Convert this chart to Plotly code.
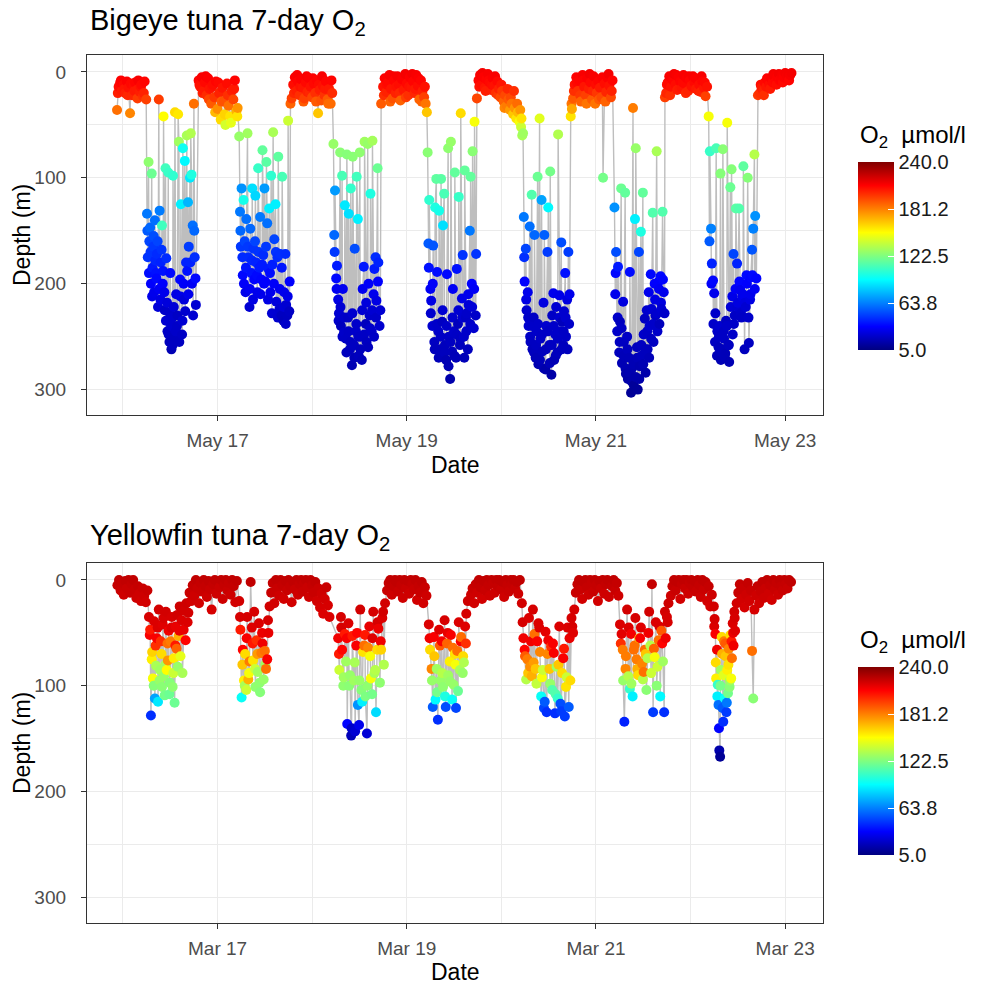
import pandas as pd
import plotly.graph_objects as go

# ---------------------------------------------------------------------------
# Archival tag records: hours since the first midnight, depth (m), O2 (umol/l)
# ---------------------------------------------------------------------------
bigeye_start = "2019-05-16"
bigeye_hours = [
    # night
    -1.5, -1.1, -0.7, -0.3, 0.2, 0.6, 1.0, 1.4, 1.8, 2.3, 2.7, 3.1, 3.5, 3.9, 4.3, 4.7, 5.1, 5.5, 5.9,
    # day 1
    6.1, 6.3, 6.5, 6.7, 6.9, 7.1, 7.3, 7.5, 7.7, 7.9, 8.1, 8.4, 8.6, 8.9, 9.1, 9.3, 9.6, 9.9, 10.1, 10.3,
    10.6, 10.8, 11.0, 11.3, 11.5, 11.8, 12.0, 12.3, 12.5, 12.7, 13.0, 13.2, 13.5, 13.7, 14.0, 14.2, 14.5,
    14.7, 15.0, 15.2, 15.5, 15.7, 16.0, 16.2, 16.5, 16.7, 17.0, 17.2, 17.5, 17.7, 18.0, 18.2, 18.5,
    # night
    19.2, 19.6, 20.0, 20.4, 20.8, 21.2, 21.6, 22.0, 22.4, 22.8, 23.2, 23.6, 24.0, 24.4, 24.8, 25.2, 25.6,
    26.0, 26.4, 26.8, 27.2, 27.6, 28.0, 28.4, 28.8, 29.1,
    # day 2
    29.5, 29.7, 29.9, 30.1, 30.4, 30.6, 30.9, 31.1, 31.3, 31.6, 31.8, 32.1, 32.3, 32.6, 32.8, 33.1, 33.3,
    33.6, 33.8, 34.1, 34.3, 34.6, 34.8, 35.1, 35.4, 35.6, 35.9, 36.1, 36.4, 36.6, 36.9, 37.1, 37.4, 37.6,
    37.9, 38.1, 38.4, 38.7, 38.9, 39.2, 39.4, 39.7, 39.9, 40.2, 40.4, 40.7, 40.9, 41.2, 41.4, 41.7, 41.9,
    42.2, 42.5, 42.8,
    # night
    43.2, 43.6, 44.0, 44.4, 44.8, 45.2, 45.6, 46.0, 46.4, 46.8, 47.2, 47.6, 48.0, 48.4, 48.8, 49.2, 49.5,
    49.9, 50.3, 50.7, 51.1, 51.5, 51.9, 52.3, 52.7, 53.1,
    # day 3
    53.4, 53.6, 53.8, 54.1, 54.3, 54.6, 54.8, 55.1, 55.3, 55.6, 55.8, 56.1, 56.3, 56.6, 56.8, 57.1, 57.3,
    57.6, 57.8, 58.1, 58.3, 58.6, 58.8, 59.1, 59.3, 59.6, 59.8, 60.1, 60.3, 60.6, 60.8, 61.1, 61.3, 61.6,
    61.8, 62.1, 62.3, 62.6, 62.8, 63.1, 63.3, 63.6, 63.8, 64.1, 64.3, 64.6, 64.8, 65.1, 65.5,
    # night
    66.0, 66.4, 66.8, 67.2, 67.6, 68.0, 68.4, 68.8, 69.2, 69.6, 70.0, 70.4, 70.8, 71.2, 71.6, 72.0, 72.4,
    72.8, 73.2, 73.6, 74.0, 74.4, 74.8, 75.2, 75.6, 76.0, 76.4, 76.8, 77.1,
    # day 4
    77.3, 77.5, 77.7, 78.0, 78.2, 78.5, 78.7, 79.0, 79.2, 79.5, 79.7, 80.0, 80.2, 80.5, 80.7, 81.0, 81.2,
    81.5, 81.7, 82.0, 82.2, 82.5, 82.7, 83.0, 83.2, 83.5, 83.7, 84.0, 84.2, 84.5, 84.7, 85.0, 85.2, 85.5,
    85.7, 86.0, 86.2, 86.5, 86.7, 87.0, 87.2, 87.5, 87.7, 88.0, 88.2, 88.5, 88.7, 89.0, 89.2, 89.5, 89.8,
    # night
    90.2, 90.6, 91.0, 91.4, 91.8, 92.2, 92.6, 93.0, 93.4, 93.8, 94.2, 94.6, 95.0, 95.4, 95.8, 96.2, 96.6,
    97.0, 97.4, 97.8, 98.2, 98.6, 99.0, 99.4, 99.8, 100.2, 100.6, 101.0, 101.3,
    # day 5
    101.5, 101.7, 101.9, 102.2, 102.4, 102.7, 102.9, 103.2, 103.4, 103.7, 103.9, 104.2, 104.4, 104.7,
    104.9, 105.2, 105.4, 105.7, 105.9, 106.2, 106.4, 106.7, 106.9, 107.2, 107.4, 107.7, 107.9, 108.2,
    108.4, 108.7, 108.9, 109.2, 109.4, 109.7, 109.9, 110.2, 110.4, 110.7, 110.9, 111.2, 111.4, 111.7,
    111.9, 112.2, 112.4, 112.7, 113.0, 113.3,
    # night
    113.6, 113.9, 114.2, 114.6, 115.0, 115.4, 115.8, 116.2, 116.6, 117.0, 117.4, 117.8, 118.2, 118.6,
    119.0, 119.4, 119.8, 120.2, 120.6, 121.0, 121.4, 121.8, 122.2, 122.6, 123.0, 123.4, 123.8, 124.2,
    # day 6
    124.7, 124.9, 125.1, 125.4, 125.6, 125.9, 126.1, 126.4, 126.6, 126.9, 127.1, 127.4, 127.6, 127.9,
    128.1, 128.4, 128.6, 128.9, 129.1, 129.4, 129.6, 129.9, 130.1, 130.4, 130.6, 130.9, 131.1, 131.4,
    131.6, 131.9, 132.1, 132.4, 132.6, 132.9, 133.1, 133.4, 133.6, 133.9, 134.1, 134.4, 134.6, 134.9,
    135.1, 135.4, 135.6, 135.9, 136.1, 136.4, 136.6, 136.9, 137.2, 137.5,
    # night
    137.8, 138.2, 138.6, 139.0, 139.4, 139.8, 140.2, 140.6, 141.0, 141.4, 141.8, 142.2, 142.6, 143.0,
    143.4, 143.8, 144.2, 144.6, 145.0, 145.4, 145.8, 146.2, 146.6, 147.0, 147.4, 147.8, 148.2,
    # day 7
    148.6, 148.9, 149.2, 149.4, 149.7, 150.0, 150.3, 150.5, 150.8, 151.1, 151.4, 151.6, 151.9, 152.2,
    152.5, 152.7, 153.0, 153.3, 153.6, 153.8, 154.1, 154.4, 154.7, 154.9, 155.2, 155.5, 155.8, 156.0,
    156.3, 156.6, 156.9, 157.1, 157.4, 157.7, 158.0, 158.2, 158.5, 158.8, 159.1, 159.3, 159.6, 159.9,
    160.2, 160.4, 160.7, 161.1,
    # night
    161.6, 162.0, 162.4, 162.8, 163.2, 163.6, 164.0, 164.4, 164.8, 165.2, 165.6, 166.0, 166.4, 166.8,
    167.2, 167.6, 168.0, 168.4, 168.8, 169.3,
]
bigeye_depth = [
    36, 14, 10, 18, 12, 20, 9, 15, 39, 22, 13, 10, 17, 8, 19, 12, 23, 9, 26,
    134, 175, 85, 160, 147, 200, 96, 185, 165, 208, 140, 190, 172, 222, 26, 131, 180, 145, 200, 42,
    225, 91, 176, 245, 95, 255, 190, 262, 232, 98, 250, 38, 210, 240, 40, 66, 196,
    125, 248, 72, 215, 84, 180, 60, 123, 165, 100, 58, 200, 145, 30, 175, 220,
    8, 14, 5, 18, 10, 22, 6, 16, 30, 12, 24, 9, 35, 20, 45, 15, 28,
    50, 11, 32, 42, 18, 26, 8, 37, 34,
    61, 132, 165, 110, 192, 121, 160, 208, 139, 58, 175, 222, 148, 190, 110, 167, 196,
    117, 180, 208, 91, 185, 137, 196, 74, 173, 110, 198, 85, 143, 186, 129, 208, 98,
    182, 57, 158, 125, 217, 175, 80, 224, 172, 230, 99, 235, 208, 172, 220, 230, 46,
    226, 30, 25,
    12, 5, 18, 9, 22, 7, 15, 25, 10, 19, 6, 14, 24, 11, 20, 8, 39,
    17, 27, 13, 22, 9, 26, 16, 30, 20,
    68, 154, 112, 195, 183, 215, 228, 76, 240, 98, 205, 246, 126, 252, 78, 232, 134,
    262, 110, 277, 80, 258, 167, 245, 99, 139, 268, 76, 250, 272, 205, 184, 66, 238,
    255, 68, 200, 230, 115, 245, 65, 210, 186, 175, 216, 91, 180, 240, 30,
    14, 6, 19, 10, 3, 16, 25, 8, 20, 4, 12, 27, 7, 17, 2, 11, 22,
    5, 15, 9, 20, 3, 13, 26, 8, 18, 24, 30, 38,
    76, 162, 121, 205, 216, 240, 164, 255, 128, 101, 189, 245, 131, 262, 101, 236, 145,
    115, 258, 272, 191, 72, 250, 290, 66, 264, 205, 245, 95, 270, 186, 238, 118, 258,
    39, 214, 173, 250, 93, 232, 228, 262, 220, 150, 99, 200, 75, 242, 47, 230, 25,
    8, 3, 12, 5, 15, 7, 2, 10, 17, 6, 13, 20, 9, 16, 24, 18, 28,
    22, 32, 26, 36, 30, 40, 34, 44, 38, 47, 52, 60,
    58, 137, 198, 167, 225, 208, 240, 146, 255, 116, 262, 232, 154, 270,
    245, 99, 276, 44, 252, 121, 264, 218, 154, 281, 240, 170, 128, 258,
    94, 286, 230, 209, 272, 248, 222, 265, 59, 211, 245, 161, 236, 258,
    226, 190, 250, 215, 170, 210,
    42, 35, 25, 12, 5, 18, 8, 28, 3, 14, 22, 6, 16, 10,
    26, 4, 30, 20, 9, 15, 24, 100, 11, 19, 6, 13, 24, 8,
    128, 210, 170, 245, 184, 265, 236, 110, 275, 217, 255, 114, 285, 250,
    290, 270, 189, 303, 280, 34, 296, 139, 72, 260, 300, 170, 278, 151,
    268, 114, 248, 233, 284, 225, 262, 208, 240, 191, 224, 133, 255, 200,
    230, 75, 245, 198, 238, 193, 224, 132, 208, 24,
    20, 10, 4, 14, 7, 2, 12, 17, 5, 9, 15, 3, 11, 6,
    18, 8, 13, 4, 10, 16, 7, 12, 19, 9, 15, 23, 14,
    42, 75, 148, 181, 197, 209, 228, 72, 245, 260, 240, 96, 265, 73,
    252, 270, 235, 48, 258, 274, 109, 92, 248, 172, 230, 129, 181, 218,
    129, 206, 232, 212, 89, 262, 222, 192, 100, 256, 215, 194, 168, 148,
    78, 136, 195, 22,
    20, 15, 18, 10, 14, 8, 12, 6, 10, 4, 9, 5, 2, 7,
    3, 5, 1, 4, 2, 3,
]
bigeye_o2 = [
    185, 208, 210, 205, 209, 204, 211, 207, 180, 202, 208, 210, 205, 212, 204, 209, 200, 210, 196,
    62, 46, 126, 50, 58, 34, 118, 40, 47, 30, 60, 38, 44, 25, 197, 63, 42, 108, 34, 152,
    22, 108, 44, 21, 106, 19, 36, 17, 23, 104, 20, 160, 28, 22, 157, 130, 35,
    90, 21, 96, 26, 92, 42, 132, 76, 48, 88, 134, 32, 60, 185, 45, 24,
    210, 207, 212, 205, 209, 201, 211, 206, 190, 208, 198, 210, 178, 203, 160, 206, 192,
    142, 208, 185, 158, 204, 195, 210, 170, 176,
    128, 62, 47, 68, 36, 98, 50, 30, 60, 130, 44, 24, 58, 38, 86, 46, 35,
    84, 42, 30, 106, 40, 62, 35, 116, 44, 70, 34, 114, 60, 40, 90, 30, 104,
    41, 132, 50, 90, 26, 44, 115, 23, 45, 20, 110, 19, 30, 44, 24, 20, 140,
    21, 188, 196,
    208, 211, 204, 210, 200, 211, 206, 196, 209, 203, 211, 207, 195, 209, 200, 210, 165,
    204, 192, 207, 199, 210, 190, 205, 186, 201,
    128, 58, 70, 36, 40, 28, 24, 125, 19, 110, 31, 22, 88, 21, 124, 21, 86,
    19, 105, 17, 125, 20, 52, 22, 108, 90, 19, 126, 21, 18, 31, 40, 130, 19,
    20, 128, 33, 22, 100, 22, 131, 30, 40, 44, 28, 118, 42, 23, 190,
    207, 211, 203, 209, 212, 206, 192, 210, 203, 212, 208, 188, 211, 205, 213, 209, 200,
    211, 206, 210, 202, 212, 208, 188, 210, 204, 196, 184, 165,
    125, 55, 104, 32, 28, 23, 54, 20, 100, 115, 37, 22, 98, 19, 114, 20, 86,
    110, 19, 17, 36, 126, 21, 15, 128, 19, 32, 22, 116, 18, 38, 19, 106, 19,
    160, 29, 46, 22, 116, 21, 22, 19, 25, 62, 116, 34, 125, 23, 150, 22, 195,
    210, 212, 208, 211, 206, 210, 212, 209, 204, 211, 207, 200, 209, 203, 194, 198, 188,
    194, 182, 190, 175, 184, 165, 176, 158, 168, 150, 140, 132,
    130, 62, 34, 50, 23, 30, 23, 60, 20, 112, 19, 21, 58, 18,
    22, 118, 16, 145, 21, 72, 19, 27, 56, 15, 23, 48, 92, 19,
    120, 14, 21, 30, 17, 22, 24, 19, 134, 29, 22, 52, 19, 19,
    23, 38, 21, 27, 48, 30,
    158, 172, 190, 207, 211, 200, 210, 188, 212, 206, 196, 211, 204, 209,
    190, 212, 184, 198, 210, 205, 194, 120, 208, 202, 211, 207, 194, 210,
    68, 30, 52, 22, 40, 19, 19, 118, 17, 27, 20, 116, 15, 21,
    14, 18, 37, 10, 16, 182, 11, 90, 128, 19, 11, 50, 16, 100,
    19, 116, 22, 20, 15, 23, 19, 30, 23, 36, 24, 112, 20, 34,
    21, 132, 22, 34, 19, 36, 24, 112, 30, 196,
    202, 209, 212, 207, 211, 213, 208, 204, 211, 210, 206, 212, 209, 211,
    203, 210, 207, 212, 209, 205, 211, 208, 203, 210, 206, 196, 207,
    150, 106, 64, 42, 35, 30, 22, 110, 22, 19, 23, 124, 19, 125,
    21, 18, 20, 150, 19, 17, 118, 124, 22, 50, 21, 114, 42, 27,
    112, 31, 21, 29, 115, 19, 24, 36, 124, 20, 28, 35, 54, 64,
    135, 68, 35, 198,
    200, 205, 203, 209, 206, 210, 208, 211, 209, 212, 210, 211, 213, 211,
    212, 211, 213, 212, 213, 212,
]

# interleaved samples from the same tag (merged in time order below)
bigeye_extra_hours = [
    -1.3, -0.5, 0.4, 1.2, 2.0, 2.9, 3.7, 4.5, 5.3,
    6.2, 6.6, 7.0, 7.4, 7.8, 8.2, 8.5, 8.8, 9.2, 9.5, 9.8, 10.2, 10.5, 10.9, 11.2, 11.6, 11.9,
    12.2, 12.6, 12.9, 13.4, 13.8, 14.3, 14.6, 15.1, 15.4, 15.8, 16.3, 16.6, 17.1, 17.4, 17.8, 18.1, 18.4,
    19.4, 20.2, 21.0, 21.8, 22.6, 23.4, 24.2, 25.0, 25.8, 26.6, 27.4, 28.2, 29.0,
    29.8, 30.3, 30.7, 31.2, 31.7, 32.2, 32.7, 33.0, 33.5, 34.0, 34.4, 34.9, 35.3, 35.8, 36.3, 36.8,
    37.3, 37.8, 38.3, 38.8, 39.3, 39.8, 40.3, 40.8, 41.3, 41.8, 42.3,
    43.4, 44.2, 45.0, 45.8, 46.6, 47.4, 48.2, 49.0, 49.7, 50.5, 51.3, 52.1, 52.9,
    53.7, 54.2, 54.7, 55.2, 55.7, 56.2, 56.7, 57.2, 57.7, 58.2, 58.7, 59.2, 59.7, 60.2, 60.7, 61.2,
    61.7, 62.2, 62.7, 63.2, 63.7, 64.2, 64.7, 65.3,
    66.2, 67.0, 67.8, 68.6, 69.4, 70.2, 71.0, 71.8, 72.6, 73.4, 74.2, 75.0, 75.8, 76.6,
    77.6, 78.1, 78.6, 79.1, 79.6, 80.1, 80.6, 81.1, 81.6, 82.1, 82.6, 83.1, 83.6, 84.1, 84.6, 85.1,
    85.6, 86.1, 86.6, 87.1, 87.6, 88.1, 88.6, 89.1, 89.6,
    90.4, 91.2, 92.0, 92.8, 93.6, 94.4, 95.2, 96.0, 96.8, 97.6, 98.4, 99.2, 100.0, 100.8, 101.1,
    101.8, 102.3, 102.8, 103.3, 103.8, 104.3, 104.8, 105.3, 105.8, 106.3, 106.8, 107.3, 107.8, 108.3,
    108.8, 109.3, 109.8, 110.3, 110.8, 111.3, 111.8, 112.3, 112.8, 113.2,
    113.8, 114.4, 115.2, 116.0, 116.8, 117.6, 118.4, 119.2, 120.0, 120.8, 121.6, 122.4, 123.2, 124.0,
    125.0, 125.5, 126.0, 126.5, 127.0, 127.5, 128.0, 128.5, 129.0, 129.5, 130.0, 130.5, 131.0, 131.5,
    132.0, 132.5, 133.0, 133.5, 134.0, 134.5, 135.0, 135.5, 136.0, 136.5, 137.0, 137.4,
    138.0, 138.8, 139.6, 140.4, 141.2, 142.0, 142.8, 143.6, 144.4, 145.2, 146.0, 146.8, 147.6,
    148.8, 149.3, 149.8, 150.2, 150.7, 151.2, 151.7, 152.0, 152.4, 152.8, 153.2, 153.7, 154.2, 154.6,
    155.0, 155.4, 155.9, 156.4, 156.8, 157.3, 157.8, 158.3, 158.7, 159.2, 159.7, 160.3,
    161.8, 162.6, 163.4, 164.2, 165.0, 165.8, 166.6, 167.4, 168.2, 169.0, 169.6,
]
bigeye_extra_depth = [
    20, 8, 16, 22, 11, 18, 25, 14, 20,
    150, 190, 170, 212, 155, 178, 195, 160, 205, 215, 168, 188, 208, 235, 218, 248, 228,
    240, 258, 222, 245, 230, 255, 212, 235, 200, 226, 188, 210, 180, 97, 230, 150, 195,
    12, 20, 4, 26, 14, 38, 10, 28, 40, 22, 48, 16, 42,
    150, 175, 200, 185, 165, 205, 178, 215, 160, 192, 170, 210, 182, 200, 165, 215,
    190, 228, 200, 170, 232, 205, 185, 222, 238, 212, 198,
    20, 3, 14, 28, 4, 20, 6, 28, 12, 4, 16, 30, 8,
    170, 205, 235, 222, 250, 232, 265, 245, 255, 228, 270, 238, 250, 262, 225, 248,
    218, 260, 242, 225, 250, 232, 198, 225,
    22, 12, 28, 4, 14, 20, 6, 24, 14, 2, 16, 6, 28, 14,
    185, 228, 200, 262, 238, 270, 250, 225, 265, 240, 278, 255, 232, 268, 248, 225,
    252, 232, 270, 245, 210, 238, 222, 205, 172,
    14, 1, 18, 8, 12, 4, 22, 12, 34, 16, 24, 18, 30, 36, 44,
    175, 215, 232, 250, 240, 265, 258, 238, 272, 248, 280, 262, 245, 275,
    258, 240, 268, 252, 232, 262, 245, 232, 262, 238,
    30, 18, 10, 22, 8, 30, 2, 18, 12, 26, 5, 28, 2, 18,
    190, 232, 255, 242, 268, 280, 262, 284, 292, 276, 288, 270, 290, 258,
    276, 262, 245, 270, 252, 238, 215, 228, 205, 218, 196, 228,
    12, 22, 8, 3, 16, 10, 20, 4, 14, 6, 18, 4, 10,
    160, 200, 238, 255, 268, 250, 272, 262, 245, 266, 240, 258, 222, 212,
    238, 205, 222, 198, 228, 210, 218, 200, 232, 210, 192, 205,
    12, 22, 6, 16, 2, 12, 8, 10, 6, 8, 1,
]
bigeye_extra_o2 = [
    204, 211, 206, 202, 209, 205, 197, 207, 203,
    55, 37, 46, 29, 52, 43, 36, 50, 32, 28, 46, 38, 30, 24, 26, 21, 22,
    23, 20, 25, 22, 21, 20, 29, 24, 33, 23, 38, 30, 42, 100, 24, 58, 36,
    208, 203, 212, 195, 207, 168, 209, 190, 162, 200, 146, 205, 158,
    58, 44, 33, 39, 47, 32, 43, 28, 50, 36, 46, 30, 40, 33, 47, 28,
    37, 24, 33, 46, 23, 32, 39, 25, 22, 29, 34,
    202, 212, 207, 190, 212, 202, 211, 190, 208, 212, 205, 186, 210,
    47, 31, 22, 24, 21, 22, 19, 21, 20, 23, 18, 22, 21, 19, 24, 21,
    26, 19, 22, 24, 21, 22, 34, 24,
    200, 208, 188, 212, 207, 202, 211, 196, 207, 213, 205, 211, 188, 207,
    38, 23, 33, 19, 22, 18, 21, 24, 19, 22, 17, 20, 23, 18, 21, 24,
    20, 23, 18, 22, 30, 22, 25, 32, 46,
    207, 213, 204, 210, 208, 212, 198, 206, 180, 202, 194, 200, 186, 176, 158,
    45, 28, 22, 21, 22, 19, 20, 22, 18, 21, 17, 19, 21, 18,
    20, 22, 18, 21, 23, 19, 21, 23, 19, 22,
    184, 200, 209, 198, 210, 184, 213, 202, 208, 190, 211, 188, 213, 203,
    36, 22, 20, 21, 18, 17, 19, 16, 15, 17, 15, 18, 15, 20,
    17, 19, 21, 18, 20, 22, 28, 23, 32, 27, 35, 22,
    208, 200, 210, 212, 205, 209, 202, 212, 207, 211, 204, 212, 209,
    55, 33, 22, 20, 18, 21, 17, 19, 21, 18, 22, 20, 25, 29,
    22, 32, 24, 35, 22, 30, 27, 34, 22, 30, 36, 32,
    208, 200, 211, 205, 213, 208, 210, 209, 211, 210, 213,
]

yellowfin_start = "2019-03-16"
yellowfin_hours = [
    # night
    -1.4, -1.0, -0.6, -0.2, 0.2, 0.6, 1.0, 1.4, 1.8, 2.2, 2.6, 3.0, 3.4, 3.8, 4.2, 4.6, 5.0, 5.4, 5.8, 6.2,
    # day 1
    6.6, 6.9, 7.1, 7.4, 7.6, 7.9, 8.1, 8.4, 8.6, 8.9, 9.1, 9.4, 9.6, 9.9, 10.1, 10.4, 10.6, 10.9, 11.1,
    11.4, 11.6, 11.9, 12.1, 12.4, 12.6, 12.9, 13.1, 13.4, 13.6, 13.9, 14.1, 14.4, 14.6, 14.9, 15.1, 15.4,
    15.6, 15.9, 16.1, 16.4, 16.6,
    # night
    16.9, 17.3, 17.7, 18.1, 18.5, 18.9, 19.3, 19.7, 20.1, 20.5, 20.9, 21.3, 21.7, 22.1, 22.5, 22.9, 23.3,
    23.7, 24.1, 24.5, 24.9, 25.3, 25.7, 26.1, 26.5, 26.9, 27.3, 27.7, 28.1, 28.5, 28.9,
    # day 2
    29.5, 29.8, 30.1, 30.4, 30.7, 31.0, 31.3, 31.5, 31.8, 32.1, 32.4, 32.7, 33.0, 33.3, 33.6, 33.9, 34.2,
    34.5, 34.8, 35.1, 35.4, 35.7, 36.0, 36.3, 36.6, 36.9, 37.2,
    # night
    37.6, 38.0, 38.4, 38.8, 39.2, 39.6, 40.0, 40.4, 40.8, 41.2, 41.6, 42.0, 42.4, 42.8, 43.2, 43.6, 44.0,
    44.4, 44.8, 45.2, 45.6, 46.0, 46.4, 46.8, 47.2, 47.6, 48.0, 48.4, 48.8, 49.2, 49.6, 50.0, 50.4, 50.8,
    51.2, 51.6, 52.0, 52.4,
    # day 3
    54.6, 54.9, 55.3, 55.6, 55.9, 56.3, 56.6, 56.9, 57.2, 57.6, 57.9, 58.2, 58.6, 58.9, 59.2, 59.6, 59.9,
    60.2, 60.5, 60.9, 61.2, 61.5, 61.9, 62.2, 62.5, 62.9, 63.2, 63.5, 63.8, 64.2, 64.5, 64.8, 65.2, 65.5,
    65.8, 66.2, 66.5,
    # night
    67.0, 67.4, 67.8, 68.2, 68.6, 69.0, 69.4, 69.8, 70.2, 70.6, 71.0, 71.4, 71.8, 72.2, 72.6, 73.0, 73.4,
    73.8, 74.2, 74.6, 75.0, 75.4, 75.8, 76.2, 76.6, 77.0,
    # day 4
    77.6, 77.9, 78.3, 78.6, 78.9, 79.3, 79.6, 79.9, 80.2, 80.6, 80.9, 81.2, 81.6, 81.9, 82.2, 82.5, 82.9,
    83.2, 83.5, 83.9, 84.2, 84.5, 84.8, 85.2, 85.5, 85.8, 86.2, 86.5, 86.8, 87.1, 87.5,
    # night
    88.3, 88.7, 89.1, 89.5, 89.9, 90.3, 90.7, 91.1, 91.5, 91.9, 92.3, 92.7, 93.1, 93.5, 93.9, 94.3, 94.7,
    95.1, 95.5, 95.9, 96.3, 96.7, 97.1, 97.5, 97.9, 98.3, 98.7, 99.1, 99.5, 99.9, 100.3, 100.7,
    # day 5
    101.2, 101.6, 101.9, 102.3, 102.6, 103.0, 103.3, 103.7, 104.0, 104.4, 104.7, 105.1, 105.4, 105.8,
    106.1, 106.5, 106.8, 107.2, 107.5, 107.9, 108.2, 108.6, 108.9, 109.3, 109.6, 110.0, 110.3, 110.7,
    111.0, 111.4, 111.7, 112.1, 112.4, 112.8, 113.1, 113.5, 113.8, 114.2, 114.5,
    # night
    114.9, 115.3, 115.7, 116.1, 116.5, 116.9, 117.3, 117.7, 118.1, 118.5, 118.9, 119.3, 119.7, 120.1,
    120.5, 120.9, 121.3, 121.7, 122.1, 122.5, 122.9, 123.3, 123.7, 124.1, 124.5, 124.9, 125.3, 125.7,
    # day 6
    126.1, 126.5, 126.8, 127.2, 127.5, 127.9, 128.2, 128.6, 128.9, 129.3, 129.6, 130.0, 130.3, 130.7,
    131.0, 131.4, 131.7, 132.1, 132.4, 132.8, 133.1, 133.5, 133.8, 134.2, 134.5, 134.9, 135.2, 135.6,
    135.9, 136.3, 136.6, 137.0, 137.3, 137.7, 138.0, 138.4,
    # night
    139.0, 139.4, 139.8, 140.2, 140.6, 141.0, 141.4, 141.8, 142.2, 142.6, 143.0, 143.4, 143.8, 144.2,
    144.6, 145.0, 145.4, 145.8, 146.2, 146.6, 147.0, 147.4, 147.8, 148.2, 148.6, 149.0, 149.4,
    # day 7
    149.9, 150.1, 150.3, 150.5, 150.7, 150.9, 151.1, 151.3, 151.5, 151.7, 151.9, 152.1, 152.3, 152.5,
    152.7, 152.9, 153.1, 153.3, 153.5, 153.7, 153.9, 154.1, 154.3, 154.5, 154.7, 154.9, 155.1, 155.3,
    # night
    155.7, 156.1, 156.5, 156.9, 157.3, 157.7, 158.1, 158.5, 158.9, 159.3, 159.6, 159.9, 160.2, 160.6,
    161.0, 161.4, 161.8, 162.2, 162.6, 163.0, 163.4, 163.8, 164.2, 164.6, 165.0, 165.4, 165.8, 166.2,
    166.6, 167.0, 167.4, 167.8, 168.2, 168.6, 169.0, 169.5,
]
yellowfin_depth = [
    5, 0, 10, 3, 14, 1, 8, 0, 12, 4, 0, 9, 17, 6, 13, 20, 8, 15, 21, 10,
    35, 47, 128, 68, 93, 39, 112, 81, 55, 115, 28, 85, 58, 101, 42, 91, 109, 30, 85,
    76, 48, 97, 58, 35, 101, 74, 116, 44, 65, 82, 53, 25, 72, 38, 88, 47,
    29, 57, 22, 40, 31,
    12, 20, 5, 15, 0, 8, 22, 3, 11, 0, 6, 16, 1, 9, 28, 4, 0,
    13, 2, 7, 0, 18, 5, 0, 10, 3, 14, 0, 6, 21, 1,
    20, 47, 111, 66, 95, 70, 104, 35, 94, 77, 2, 45, 76, 30, 101, 57, 87,
    41, 106, 69, 60, 94, 67, 84, 75, 50, 25,
    12, 3, 22, 0, 8, 15, 0, 5, 18, 1, 10, 0, 6, 21, 2, 9, 0,
    14, 4, 0, 11, 3, 0, 7, 16, 0, 5, 12, 2, 20, 8, 26, 13, 32,
    18, 7, 24, 35,
    55, 85, 35, 66, 100, 51, 77, 136, 41, 90, 147, 53, 95, 143, 62, 118, 137,
    28, 104, 68, 62, 110, 145, 64, 44, 93, 108, 30, 88, 125, 66, 46, 97, 66,
    36, 80, 22,
    10, 3, 0, 14, 6, 0, 2, 11, 0, 5, 17, 0, 8, 1, 13, 0, 4,
    9, 0, 19, 6, 12, 2, 22, 7, 15,
    42, 66, 84, 120, 54, 113, 84, 132, 47, 95, 58, 101, 38, 120, 60, 90, 77,
    52, 113, 99, 70, 121, 67, 40, 85, 54, 88, 78, 44, 32, 20,
    14, 8, 22, 4, 12, 0, 7, 18, 1, 10, 0, 5, 15, 0, 3, 12, 0,
    6, 0, 9, 2, 16, 0, 5, 11, 0, 4, 0, 8, 2, 13, 0,
    22, 55, 66, 94, 75, 36, 82, 91, 28, 51, 84, 58, 41, 68,
    110, 85, 121, 49, 125, 57, 84, 63, 104, 69, 126, 82, 112, 44,
    117, 88, 74, 129, 101, 45, 120, 95, 36, 50, 28,
    12, 4, 0, 9, 18, 2, 0, 7, 14, 0, 3, 11, 0, 5,
    20, 1, 8, 0, 13, 4, 0, 16, 2, 6, 0, 10, 3, 15,
    42, 51, 66, 134, 84, 28, 91, 103, 51, 110, 66, 36, 75, 90,
    55, 45, 79, 87, 66, 104, 74, 30, 62, 4, 125, 73, 40, 82,
    57, 110, 48, 77, 125, 55, 35, 22,
    15, 6, 0, 10, 2, 0, 18, 4, 0, 8, 0, 13, 3, 0,
    7, 1, 11, 0, 5, 16, 0, 9, 2, 20, 6, 25, 14,
    25, 37, 51, 93, 66, 99, 118, 161, 167, 85, 54, 121, 134, 58,
    112, 72, 125, 85, 107, 65, 101, 52, 93, 74, 41, 62, 30, 48,
    22, 12, 4, 18, 8, 26, 14, 3, 20, 10, 67, 112, 28, 15,
    6, 22, 11, 2, 17, 8, 0, 13, 5, 19, 0, 9, 3, 14,
    0, 6, 10, 0, 4, 8, 0, 2,
]
yellowfin_o2 = [
    224, 225, 223, 224, 222, 225, 223, 225, 223, 224, 225, 223, 222, 224, 222, 221, 223, 222, 221, 223,
    220, 205, 45, 162, 150, 219, 72, 132, 212, 88, 221, 130, 200, 125, 218, 128, 120, 221, 152,
    176, 214, 124, 182, 220, 126, 156, 118, 216, 188, 128, 170, 222, 146, 219, 132, 216,
    221, 210, 222, 219, 221,
    223, 221, 224, 222, 225, 223, 221, 224, 223, 225, 224, 222, 225, 223, 220, 224, 225,
    222, 225, 223, 225, 222, 224, 225, 223, 224, 222, 225, 224, 221, 225,
    221, 205, 95, 210, 155, 160, 140, 220, 170, 182, 225, 218, 158, 220, 126, 200, 130,
    219, 124, 182, 214, 128, 185, 185, 212, 216, 221,
    223, 224, 221, 225, 223, 222, 225, 224, 221, 225, 223, 225, 224, 221, 225, 223, 225,
    222, 224, 225, 223, 224, 225, 223, 222, 225, 224, 223, 225, 221, 223, 220, 222, 219,
    221, 223, 220, 219,
    214, 140, 220, 210, 126, 205, 130, 35, 219, 128, 18, 205, 130, 24, 212, 68, 30,
    221, 124, 158, 185, 122, 25, 180, 216, 150, 120, 220, 132, 85, 160, 215, 126, 162,
    219, 134, 221,
    223, 224, 225, 222, 224, 225, 225, 223, 225, 224, 222, 225, 223, 225, 222, 225, 224,
    223, 225, 221, 224, 223, 225, 221, 223, 222,
    219, 160, 180, 55, 212, 92, 130, 45, 218, 128, 212, 126, 220, 52, 188, 130, 155,
    212, 95, 128, 158, 50, 185, 219, 132, 186, 128, 134, 218, 220, 222,
    222, 223, 221, 224, 222, 225, 224, 221, 225, 223, 225, 224, 222, 225, 224, 222, 225,
    224, 225, 223, 225, 222, 225, 224, 223, 225, 224, 225, 223, 225, 222, 225,
    221, 214, 210, 135, 182, 219, 178, 170, 220, 185, 165, 212, 219, 180,
    95, 140, 50, 217, 45, 214, 165, 200, 112, 212, 45, 130, 105, 219,
    52, 160, 212, 48, 158, 219, 55, 160, 220, 218, 220,
    223, 224, 225, 223, 221, 225, 225, 224, 222, 225, 224, 223, 225, 224,
    221, 225, 223, 225, 222, 224, 225, 222, 225, 224, 225, 223, 224, 222,
    219, 217, 182, 42, 180, 221, 135, 105, 213, 90, 185, 220, 182, 160,
    160, 218, 180, 185, 185, 125, 135, 221, 135, 224, 48, 150, 219, 140,
    185, 92, 190, 130, 45, 214, 220, 222,
    222, 224, 225, 223, 225, 225, 221, 224, 225, 223, 225, 222, 224, 225,
    224, 225, 223, 225, 224, 222, 225, 223, 225, 221, 224, 220, 222,
    221, 220, 212, 155, 214, 105, 60, 15, 10, 130, 160, 55, 45, 182,
    95, 165, 48, 155, 120, 180, 125, 160, 150, 185, 219, 214, 221, 218,
    221, 223, 224, 221, 223, 220, 222, 224, 221, 223, 185, 125, 220, 222,
    224, 221, 223, 225, 222, 223, 225, 222, 224, 221, 225, 223, 224, 222,
    225, 224, 223, 225, 224, 223, 225, 225,
]

yellowfin_extra_hours = [
    6.8, 7.3, 7.8, 8.3, 8.8, 9.3, 9.8, 10.3, 10.8, 11.3, 11.8, 12.3, 12.8, 13.3, 13.8, 14.3, 14.8,
    29.7, 30.3, 30.9, 31.4, 32.0, 32.9, 33.5, 34.1, 34.7, 35.3, 36.1, 36.8,
    54.8, 55.4, 56.0, 56.8, 57.4, 58.0, 58.8, 59.4, 60.0, 60.7, 61.4, 62.0, 62.7, 63.3, 64.0, 64.6,
    65.4, 66.0,
    77.8, 78.4, 79.0, 79.7, 80.4, 81.0, 81.7, 82.4, 83.0, 83.7, 84.4, 85.0, 85.7, 86.3, 87.0,
    101.4, 102.0, 102.8, 103.5, 104.2, 104.9, 105.6, 106.3, 107.0, 107.7, 108.4, 109.1, 109.8, 110.5,
    111.2, 111.9, 112.6, 113.3, 114.0,
    126.3, 126.9, 127.6, 128.3, 129.0, 129.8, 130.5, 131.2, 131.9, 132.6, 133.3, 134.0, 134.7, 135.4,
    136.1, 136.8, 137.5, 138.2,
    150.0, 150.4, 150.8, 151.2, 151.6, 152.0, 152.4, 152.8, 153.2, 153.6, 154.0, 154.4, 154.8, 155.2,
]
yellowfin_extra_depth = [
    52, 75, 100, 62, 45, 95, 70, 36, 80, 60, 108, 45, 88, 62, 33, 48, 26,
    35, 80, 100, 55, 88, 60, 84, 70, 97, 50, 80, 38,
    70, 45, 92, 55, 100, 140, 78, 50, 95, 115, 52, 100, 72, 55, 85, 40,
    58, 30,
    55, 95, 72, 106, 62, 88, 110, 50, 96, 64, 80, 105, 58, 72, 60,
    40, 72, 88, 58, 78, 98, 45, 92, 115, 70, 98, 60, 108, 80,
    124, 65, 92, 55, 44,
    60, 95, 72, 45, 98, 62, 84, 55, 94, 70, 50, 88, 65, 100,
    44, 60, 30, 40,
    44, 78, 110, 140, 100, 70, 90, 60, 116, 80, 95, 58, 50, 36,
]
yellowfin_extra_o2 = [
    212, 155, 124, 200, 219, 128, 160, 220, 130, 185, 118, 218, 140, 205, 221, 216, 222,
    220, 165, 132, 212, 150, 205, 140, 175, 126, 215, 130, 220,
    205, 220, 130, 212, 125, 22, 132, 210, 128, 90, 205, 126, 150, 218, 135, 220,
    214, 221,
    214, 128, 165, 120, 190, 135, 100, 216, 128, 185, 150, 118, 212, 160, 200,
    220, 190, 165, 214, 175, 138, 219, 150, 55, 180, 128, 212, 112, 165,
    48, 205, 140, 216, 220,
    200, 128, 182, 219, 130, 185, 170, 212, 135, 165, 214, 140, 188, 125,
    219, 210, 221, 220,
    219, 160, 90, 35, 120, 170, 145, 190, 62, 158, 130, 205, 215, 220,
]

# O2 colour key
o2_min, o2_max = 5.0, 240.0
o2_ticks = [5.0, 63.75, 122.5, 181.25, 240.0]
o2_tick_text = ["5.0", "63.8", "122.5", "181.2", "240.0"]
depth_ticks = [0, 100, 200, 300]

jet = [
    [0.000, "rgb(0,0,128)"],
    [0.125, "rgb(0,0,255)"],
    [0.375, "rgb(0,255,255)"],
    [0.625, "rgb(255,255,0)"],
    [0.875, "rgb(255,0,0)"],
    [1.000, "rgb(128,0,0)"],
]


def tag_frame(name, start, cols, extra):
    """Merge main and interleaved samples into one time-ordered table."""
    frames = []
    for c in (cols, extra):
        lengths = [len(s) for s in c]
        if len(set(lengths)) != 1:
            raise ValueError(f"{name}: column lengths differ {lengths}")
        frames.append(pd.DataFrame({"hours": c[0], "depth": c[1], "o2": c[2]}))
    df = pd.concat(frames, ignore_index=True).sort_values("hours", kind="mergesort")
    df["time"] = pd.Timestamp(start) + pd.to_timedelta(df["hours"], unit="h")
    return df


bigeye = tag_frame("bigeye", bigeye_start,
                   (bigeye_hours, bigeye_depth, bigeye_o2),
                   (bigeye_extra_hours, bigeye_extra_depth, bigeye_extra_o2))
yellowfin = tag_frame("yellowfin", yellowfin_start,
                      (yellowfin_hours, yellowfin_depth, yellowfin_o2),
                      (yellowfin_extra_hours, yellowfin_extra_depth, yellowfin_extra_o2))

FONT = "Liberation Sans, Arial, sans-serif"
W, H = 984, 985
ML, MR, MT, MB = 87, 161, 55, 62
PW, PH = W - ML - MR, H - MT - MB


def px_x(px):
    return (px - ML) / PW


def px_y(py):
    return (H - MB - py) / PH


panels = [
    dict(name="Bigeye tuna", start=bigeye_start, df=bigeye, top=55, bottom=415, bar_top=162,
         title_y=22, cbtitle_y=136, date_y=465, xa="x", ya="y", ca="coloraxis"),
    dict(name="Yellowfin tuna", start=yellowfin_start, df=yellowfin, top=563, bottom=923,
         bar_top=667, title_y=537, cbtitle_y=641, date_y=972, xa="x2", ya="y2", ca="coloraxis2"),
]

fig = go.Figure()
annotations = []
layout = {}

for i, p in enumerate(panels):
    df = p["df"]
    fig.add_trace(go.Scatter(x=df["time"], y=df["depth"], mode="lines", xaxis=p["xa"],
                             yaxis=p["ya"], line=dict(color="#BEBEBE", width=1.4),
                             hoverinfo="skip", showlegend=False))
    fig.add_trace(go.Scatter(x=df["time"], y=df["depth"], mode="markers", xaxis=p["xa"],
                             yaxis=p["ya"],
                             marker=dict(size=10, color=df["o2"], coloraxis=p["ca"],
                                         line=dict(width=0)),
                             showlegend=False))

    t0 = pd.Timestamp(p["start"])
    day = pd.Timedelta(days=1)
    suffix = "" if i == 0 else "2"
    layout["xaxis" + suffix] = dict(
        domain=[0, 1], anchor="y" + suffix, type="date",
        range=[t0 - 0.38 * day, t0 + 7.40 * day],
        tick0=t0 + day, dtick=2 * 86400000, tickformat="%b %d",
        ticks="outside", ticklen=5, tickwidth=1.2, tickcolor="#333333",
        tickfont=dict(family=FONT, size=19, color="#4D4D4D"), ticklabelstandoff=3,
        showgrid=True, gridcolor="#EBEBEB", gridwidth=1.3,
        minor=dict(dtick=86400000, tick0=t0, showgrid=True, gridcolor="#EBEBEB", gridwidth=0.7),
        showline=True, mirror=True, linecolor="#333333", linewidth=1.3, zeroline=False,
    )
    layout["yaxis" + suffix] = dict(
        domain=[px_y(p["bottom"]), px_y(p["top"])], anchor="x" + suffix,
        range=[324, -16], tickvals=depth_ticks,
        ticks="outside", ticklen=5, tickwidth=1.2, tickcolor="#333333",
        tickfont=dict(family=FONT, size=19, color="#4D4D4D"), ticklabelstandoff=11,
        showgrid=True, gridcolor="#EBEBEB", gridwidth=1.3,
        minor=dict(dtick=50, tick0=0, showgrid=True, gridcolor="#EBEBEB", gridwidth=0.7),
        showline=True, mirror=True, linecolor="#333333", linewidth=1.3, zeroline=False,
    )
    layout[p["ca"]] = dict(
        colorscale=jet, cmin=o2_min, cmax=o2_max,
        colorbar=dict(
            x=px_x(858), xanchor="left", xpad=0, y=px_y(p["bar_top"]), yanchor="top", ypad=0,
            len=188, lenmode="pixels", thickness=36, thicknessmode="pixels",
            tickvals=o2_ticks, ticktext=o2_tick_text, ticks="inside", ticklen=6,
            tickcolor="white", tickwidth=1.2,
            tickfont=dict(family=FONT, size=20, color="#1A1A1A"), outlinewidth=0,
        ),
    )
    annotations += [
        dict(text=f"{p['name']} 7-day O<sub>2</sub>", x=px_x(88), y=px_y(p["title_y"]),
             xref="paper", yref="paper", xanchor="left", yanchor="middle", showarrow=False,
             font=dict(family=FONT, size=29, color="black")),
        dict(text="Depth (m)", x=px_x(22), y=px_y((p["top"] + p["bottom"]) / 2), textangle=-90,
             xref="paper", yref="paper", xanchor="center", yanchor="middle", showarrow=False,
             font=dict(family=FONT, size=23, color="black")),
        dict(text="Date", x=0.5, y=px_y(p["date_y"]), xref="paper", yref="paper",
             xanchor="center", yanchor="middle", showarrow=False,
             font=dict(family=FONT, size=23, color="black")),
        dict(text="O<sub>2</sub>  µmol/l", x=px_x(858), y=px_y(p["cbtitle_y"]),
             xref="paper", yref="paper", xanchor="left", yanchor="middle", showarrow=False,
             font=dict(family=FONT, size=24, color="black")),
    ]

fig.update_layout(
    width=W, height=H, margin=dict(l=ML, r=MR, t=MT, b=MB),
    paper_bgcolor="white", plot_bgcolor="white", annotations=annotations,
    font=dict(family=FONT), **layout,
)

fig.write_html("out.html")
